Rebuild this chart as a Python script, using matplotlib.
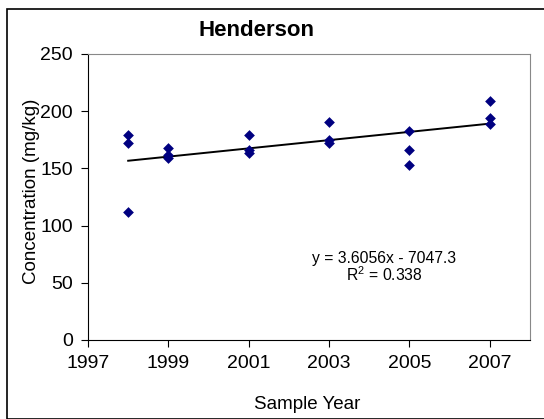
import matplotlib
matplotlib.use("Agg")
import matplotlib.pyplot as plt
from matplotlib.patches import Rectangle
import numpy as np

plt.rcParams['font.family'] = ['Liberation Sans', 'DejaVu Sans']

years = [1998, 1998, 1998, 1999, 1999, 1999, 2001, 2001, 2001,
         2003, 2003, 2003, 2005, 2005, 2005, 2007, 2007, 2007]
conc = [179.5, 172.5, 111.6, 167.5, 161.5, 159.0, 179.2, 166.0, 163.7,
        190.8, 174.8, 172.5, 182.4, 166.0, 152.7, 208.6, 194.3, 188.5]
slope = 3.6056
intercept = -7047.3
r2 = 0.338
xticks = [1997, 1999, 2001, 2003, 2005, 2007]
yticks = [0, 50, 100, 150, 200, 250]

W, H = 544, 419
fig = plt.figure(figsize=(W / 100, H / 100), dpi=100)
fig.patches.append(Rectangle((7 / W, 0), 1.0, 1 - 9 / H, transform=fig.transFigure,
                             fill=False, edgecolor='black', linewidth=1.2))

ax = fig.add_axes([88 / W, 1 - 340 / H, (530 - 88) / W, (340 - 54) / H])
ax.scatter(years, conc, marker='D', s=30, color='#000080', zorder=3, linewidths=0)
xfit = np.array([min(years), max(years)])
ax.plot(xfit, slope * xfit + intercept, color='black', linewidth=1.4, zorder=2)

ax.set_xlim(1997, 2008)
ax.set_ylim(0, 250)
ax.set_xticks(xticks)
ax.set_yticks(yticks)
ax.tick_params(axis='both', labelsize=14, direction='out', length=5, width=0.8, pad=6)
for s in ['top', 'right']:
    ax.spines[s].set_color('#888888')
for s in ['left', 'bottom']:
    ax.spines[s].set_color('black')

ax.set_xlabel('Sample Year', fontsize=13.5)
ax.xaxis.set_label_coords((307 - 88) / (530 - 88), -(396 - 340) / (340 - 54))
ax.set_ylabel('Concentration (mg/kg)', fontsize=13.5)
ax.yaxis.set_label_coords(-(88 - 40) / (530 - 88), (340 - 191) / (340 - 54))

fig.text(257 / W, 1 - 30 / H, 'Henderson', fontsize=16, fontweight='bold', ha='center', va='center')

ax.text(2004.37, 63.5, 'y = 3.6056x - 7047.3\n$\\mathregular{R^2}$ = 0.338', fontsize=11.3,
        ha='center', va='center', linespacing=1.0)

fig.savefig('out.png', dpi=100)
